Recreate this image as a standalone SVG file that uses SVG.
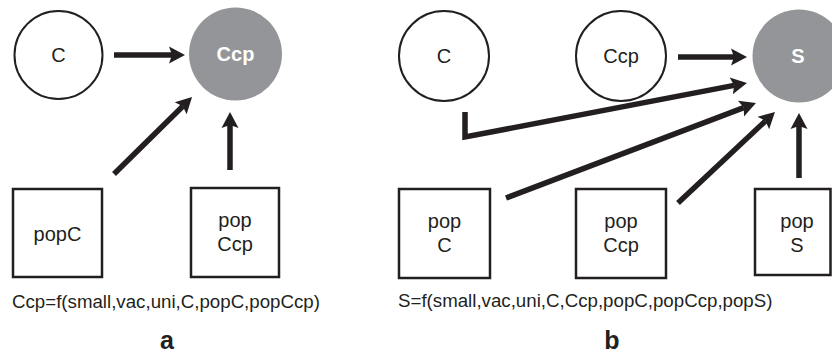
<svg xmlns="http://www.w3.org/2000/svg" width="832" height="355" viewBox="0 0 832 355">
<style>
.n{fill:#fff;stroke:#231f20;stroke-width:2}
.g{fill:#939598;stroke:none}
.b{fill:#fff;stroke:#231f20;stroke-width:2.5}
.t{font-family:"Liberation Sans",Arial,sans-serif;font-size:20px;fill:#231f20;text-anchor:middle}
.w{font-family:"Liberation Sans",Arial,sans-serif;font-size:20px;font-weight:bold;fill:#fff;text-anchor:middle}
.f{font-family:"Liberation Sans",Arial,sans-serif;font-size:18.7px;fill:#231f20}
.l{font-family:"Liberation Sans",Arial,sans-serif;font-size:25px;font-weight:bold;fill:#231f20;text-anchor:middle}
.e{fill:none;stroke:#231f20;stroke-width:5.5;marker-end:url(#ah)}
</style>
<defs>
<marker id="ah" markerUnits="userSpaceOnUse" viewBox="-1 -10 20 20" markerWidth="20" markerHeight="20" refX="3" refY="0" orient="auto">
<path d="M0,-8.5 L16,0 L0,8.5 L3,0 Z" fill="#231f20"/>
</marker>
</defs>
<g id="a-C"><circle class="n" cx="58.5" cy="55" r="44"/><text class="t" x="58.5" y="62">C</text></g>
<g id="a-Ccp"><circle class="g" cx="235.5" cy="54" r="46.5"/><text class="w" x="235.5" y="61">Ccp</text></g>
<g id="a-popC"><rect class="b" x="13" y="189" width="89" height="88"/><text class="t" x="57.5" y="241">popC</text></g>
<g id="a-popCcp"><rect class="b" x="191" y="188" width="88" height="89"/><text class="t" x="235" y="227">pop</text><text class="t" x="235" y="251">Ccp</text></g>
<g id="b-C"><circle class="n" cx="444" cy="56" r="45"/><text class="t" x="444" y="63">C</text></g>
<g id="b-Ccp"><circle class="n" cx="621" cy="56" r="45"/><text class="t" x="621" y="63">Ccp</text></g>
<g id="b-S"><circle class="g" cx="799" cy="56" r="46.5"/><text class="w" x="798" y="63">S</text></g>
<g id="b-popC"><rect class="b" x="399" y="189" width="91" height="89"/><text class="t" x="444.5" y="228">pop</text><text class="t" x="444.5" y="252">C</text></g>
<g id="b-popCcp"><rect class="b" x="576" y="189" width="90" height="89"/><text class="t" x="621" y="228">pop</text><text class="t" x="621" y="252">Ccp</text></g>
<g id="b-popS"><rect class="b" x="755" y="189" width="75.5" height="86"/><text class="t" x="797" y="228">pop</text><text class="t" x="797" y="252">S</text></g>
<g id="connectors">
<path class="e" d="M114,55 L172,55"/>
<path class="e" d="M114,174 L182.8,106.2"/>
<path class="e" d="M230,170 L230,125"/>
<path class="e" d="M678,57 L734,57"/>
<path class="e" d="M465,112 L465,137 L734.2,85.4"/>
<path class="e" d="M506,198 L743.8,107.6"/>
<path class="e" d="M678,203 L765.5,120.9"/>
<path class="e" d="M799,178 L799,126"/>
</g>
<text class="f" x="12" y="308">Ccp=f(small,vac,uni,C,popC,popCcp)</text>
<text class="f" x="398" y="307">S=f(small,vac,uni,C,Ccp,popC,popCcp,popS)</text>
<text class="l" x="167" y="349">a</text>
<text class="l" x="612" y="349">b</text>
</svg>
